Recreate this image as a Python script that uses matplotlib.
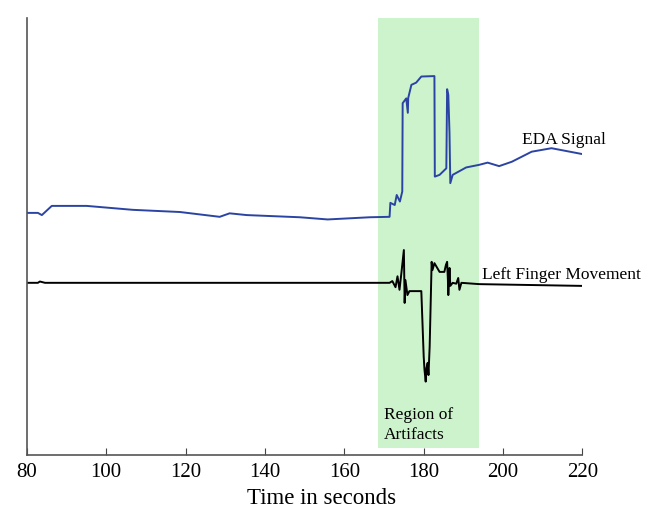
import matplotlib
matplotlib.use('Agg')
import matplotlib.pyplot as plt

# EDA signal (time in s, arbitrary units)
eda_t = [80.0, 82.8, 83.8, 86.3, 95.1, 106.7, 118.6, 128.6, 131.1, 135.4, 148.8, 155.8,
         166.4, 171.4, 171.6, 172.7, 173.2, 174.0, 174.6, 174.7, 175.6, 176.0, 176.1,
         176.9, 178.1, 179.4, 182.7, 182.8, 184.0, 185.7, 185.9, 186.2, 186.5, 186.7,
         187.3, 190.7, 194.0, 196.1, 199.0, 202.2, 207.2, 212.2, 219.7]
eda_y = [55.4, 55.4, 54.9, 57.0, 57.0, 56.1, 55.6, 54.5, 55.3, 54.9, 54.4, 53.9,
         54.4, 54.5, 57.7, 57.2, 59.5, 58.0, 60.3, 80.5, 81.6, 78.3, 81.7,
         84.7, 85.2, 86.6, 86.7, 63.7, 64.1, 65.6, 83.7, 82.4, 73.7, 62.2,
         64.1, 65.8, 66.4, 66.9, 66.1, 67.1, 69.4, 70.2, 68.9]

# Left finger movement
fin_t = [80.0, 82.8, 83.3, 84.6, 171.4, 172.1, 172.9, 173.4, 173.9, 174.4, 175.0, 175.2,
         175.4, 175.9, 176.4, 179.4, 180.0, 180.2, 180.5, 180.7, 181.0, 181.2, 181.5,
         182.0, 182.2, 182.7, 184.0, 185.2, 185.6, 185.9, 186.1, 186.2, 186.5, 186.7,
         187.3, 188.2, 188.7, 189.0, 189.5, 194.0, 219.7]
fin_y = [39.4, 39.4, 39.7, 39.4, 39.4, 39.8, 38.4, 40.9, 37.8, 41.8, 46.9, 34.8,
         40.0, 36.6, 37.5, 37.5, 22.5, 19.5, 16.8, 19.9, 21.1, 18.3, 24.8,
         44.2, 42.3, 43.9, 41.9, 41.9, 43.5, 44.2, 40.0, 36.6, 42.8, 38.7,
         39.4, 39.2, 40.5, 37.8, 39.4, 39.1, 38.7]

artifact_start, artifact_end = 168.6, 194.0
xticks = [80, 100, 120, 140, 160, 180, 200, 220]

plt.rcParams['font.family'] = ['Liberation Serif', 'DejaVu Serif']

fig = plt.figure(figsize=(6.53, 5.13), dpi=100)
ax = fig.add_axes([0.041, 0.113, 0.851, 0.852])

# region of artifacts
ax.fill_between([artifact_start, artifact_end], 1.6, 100, color='#cdf3cd', lw=0, zorder=0)

ax.plot(eda_t, eda_y, color='#2b44a3', lw=1.4)
ax.plot(fin_t, fin_y, color='black', lw=1.4)

ax.text(204.8, 72.1, 'EDA Signal', fontsize=12.5, va='center', ha='left')
ax.text(194.8, 41.2, 'Left Finger Movement', fontsize=12.5, va='center', ha='left')
ax.text(169.9, 6.9, 'Region of\nArtifacts', fontsize=12.5, va='center', ha='left',
        linespacing=1.35)

ax.set_xlim(80, 220)
ax.set_ylim(0, 100)
ax.set_xticks(xticks)
ax.set_yticks([])
ax.tick_params(axis='x', direction='in', length=5, labelsize=15, color='#444444', pad=6)
for s in ['top', 'right']:
    ax.spines[s].set_visible(False)
for s in ['left', 'bottom']:
    ax.spines[s].set_color('#555555')
    ax.spines[s].set_linewidth(1.2)
ax.set_xlabel('Time in seconds', fontsize=16.5, labelpad=6)
ax.xaxis.set_label_coords(0.531, -0.075)

fig.savefig('out.png', dpi=100)
